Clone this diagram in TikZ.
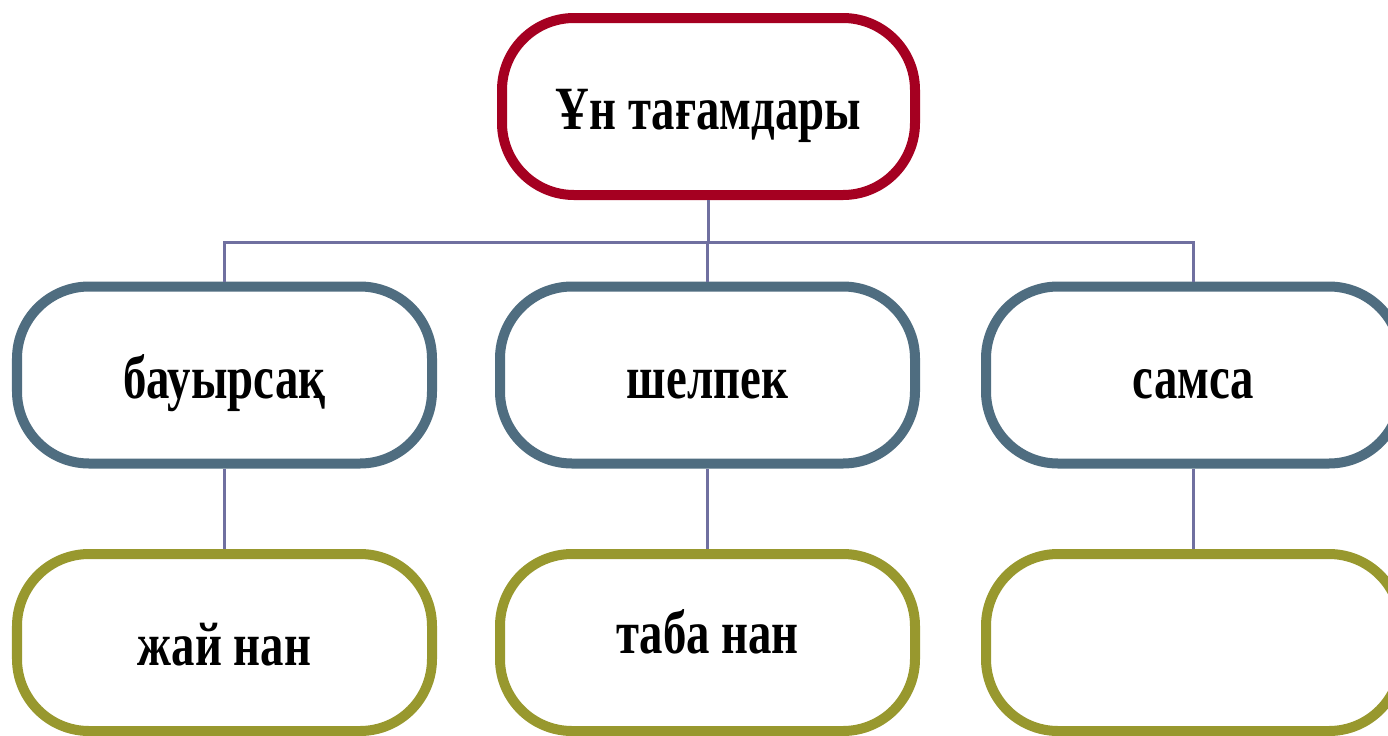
\documentclass[tikz,border=0pt]{standalone}
\usepackage{fontspec}
\newfontfamily\foodfont[FakeStretch=0.76]{Liberation Serif}
\begin{document}
\begin{tikzpicture}[
    foodbox/.style={shape=rectangle,draw,fill=white,line width=0.1cm,rounded corners=0.72cm,
                    minimum width=4.15cm,minimum height=1.77cm,text height=0.46cm,text depth=0cm,
                    font=\foodfont\bfseries\fontsize{17.5}{20}\selectfont},
    link/.style={draw=food_link,line width=0.03cm}]
    \definecolor{food_top}{RGB}{165,0,33}
    \definecolor{food_mid}{RGB}{79,109,128}
    \definecolor{food_low}{RGB}{152,152,46}
    \definecolor{food_link}{RGB}{112,112,160}
    \useasboundingbox (0,0) rectangle (13.88,7.35);
    \node[foodbox,draw=food_top,minimum width=4.13cm] (top) at (7.085,6.285) { Ұн тағамдары };
    \node[foodbox,draw=food_mid] (b1) at (2.245,3.60) { бауырсақ };
    \node[foodbox,draw=food_mid] (b2) at (7.075,3.60) { шелпек };
    \node[foodbox,draw=food_mid] (b3) at (11.935,3.60) { самса };
    \node[foodbox,draw=food_low] (c1) at (2.245,0.925) { жай нан };
    \node[foodbox,draw=food_low,text height=0.21cm] (c2) at (7.075,0.925) { таба нан };
    \node[foodbox,draw=food_low] (c3) at (11.935,0.925) {};
    \coordinate (bus) at (0,4.93);
    \draw[link] (top.south) -- (top.south |- bus);
    \draw[link] (b1.north) -- (b1.north |- bus) -- (b3.north |- bus) -- (b3.north);
    \draw[link] (b2.north) -- (b2.north |- bus);
    \draw[link] (b1.south) -- (c1.north);
    \draw[link] (b2.south) -- (c2.north);
    \draw[link] (b3.south) -- (c3.north);
\end{tikzpicture}
\end{document}
